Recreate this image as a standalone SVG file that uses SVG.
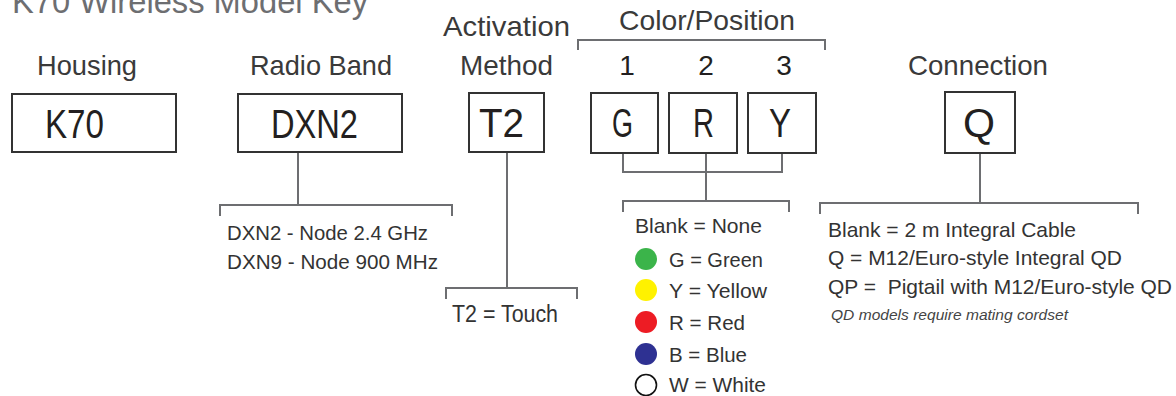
<svg xmlns="http://www.w3.org/2000/svg" width="1176" height="396" viewBox="0 0 1176 396">
<style>
text{font-family:"Liberation Sans",Arial,sans-serif;}
.title{font-size:34px;fill:#6d6e71;}
.head{font-size:28px;fill:#3a3a3a;}
.num{font-size:28px;fill:#231f20;text-anchor:middle;}
.box{fill:#fff;stroke:#333;stroke-width:2;}
.bt{font-size:40px;fill:#231f20;}
.li{font-size:21px;fill:#333;}
.note{font-size:15px;fill:#444;font-style:italic;}
.ln{fill:none;stroke:#6d6e71;stroke-width:2;}
</style>
<rect width="1176" height="396" fill="#fff"/>
<text class="title" x="12" y="13" textLength="356" lengthAdjust="spacingAndGlyphs">K70 Wireless Model Key</text>

<g id="connectors">
<path class="ln" d="M298 152V205M220 216V205H452V216"/>
<path class="ln" d="M507 152V288M446 299V288H577V299"/>
<path class="ln" d="M578 50V40H825V50"/>
<path class="ln" d="M623 153V172H782V153M706 153V201M623 212V201H789V212"/>
<path class="ln" d="M980 153V203M820 214V203H1138V214"/>
</g>

<g id="housing">
<text class="head" x="37" y="75" textLength="100" lengthAdjust="spacingAndGlyphs">Housing</text>
<rect class="box" x="12" y="94" width="164" height="58"/>
<text class="bt" x="45" y="138" textLength="59" lengthAdjust="spacingAndGlyphs">K70</text>
</g>

<g id="radio-band">
<text class="head" x="250" y="75" textLength="142" lengthAdjust="spacingAndGlyphs">Radio Band</text>
<rect class="box" x="238" y="94" width="164" height="58"/>
<text class="bt" x="271" y="138" textLength="87" lengthAdjust="spacingAndGlyphs">DXN2</text>
<text class="li" x="227" y="240" font-size="22" textLength="201" lengthAdjust="spacingAndGlyphs">DXN2 - Node 2.4 GHz</text>
<text class="li" x="227" y="269" font-size="22" textLength="211" lengthAdjust="spacingAndGlyphs">DXN9 - Node 900 MHz</text>
</g>

<g id="activation">
<text class="head" x="443" y="36" textLength="127" lengthAdjust="spacingAndGlyphs">Activation</text>
<text class="head" x="460" y="75" textLength="93" lengthAdjust="spacingAndGlyphs">Method</text>
<rect class="box" x="469" y="93" width="75" height="59"/>
<text class="bt" x="479" y="137" textLength="45" lengthAdjust="spacingAndGlyphs">T2</text>
<text class="li" x="452" y="322" style="font-size:23px" textLength="106" lengthAdjust="spacingAndGlyphs">T2 = Touch</text>
</g>

<g id="color-position">
<text class="head" x="619" y="30" textLength="176" lengthAdjust="spacingAndGlyphs">Color/Position</text>
<text class="num" x="627" y="75">1</text>
<text class="num" x="706" y="75">2</text>
<text class="num" x="784" y="75">3</text>
</g>

<g id="pos1">
<rect class="box" x="591" y="93" width="67" height="60"/>
<text class="bt" x="612" y="137" textLength="21" lengthAdjust="spacingAndGlyphs">G</text>
</g>
<g id="pos2">
<rect class="box" x="669" y="93" width="68" height="60"/>
<text class="bt" x="693" y="137" textLength="21" lengthAdjust="spacingAndGlyphs">R</text>
</g>
<g id="pos3">
<rect class="box" x="748" y="93" width="68" height="60"/>
<text class="bt" x="769" y="137" textLength="22" lengthAdjust="spacingAndGlyphs">Y</text>
</g>

<g id="color-list">
<text class="li" x="635" y="233" textLength="127" lengthAdjust="spacingAndGlyphs">Blank = None</text>
<circle cx="646" cy="259" r="11" fill="#3bb44a"/>
<text class="li" x="669" y="267" textLength="94" lengthAdjust="spacingAndGlyphs">G = Green</text>
<circle cx="646" cy="290" r="11" fill="#fff200"/>
<text class="li" x="669" y="298" textLength="98" lengthAdjust="spacingAndGlyphs">Y = Yellow</text>
<circle cx="646" cy="322" r="11" fill="#ed1c24"/>
<text class="li" x="669" y="330" textLength="76" lengthAdjust="spacingAndGlyphs">R = Red</text>
<circle cx="646" cy="354" r="11" fill="#2e3192"/>
<text class="li" x="669" y="362" textLength="78" lengthAdjust="spacingAndGlyphs">B = Blue</text>
<circle cx="646" cy="385" r="10.5" fill="#fff" stroke="#111" stroke-width="1.6"/>
<text class="li" x="669" y="392" textLength="97" lengthAdjust="spacingAndGlyphs">W = White</text>
</g>

<g id="connection">
<text class="head" x="908" y="75" textLength="140" lengthAdjust="spacingAndGlyphs">Connection</text>
<rect class="box" x="945" y="92" width="70" height="61"/>
<text class="bt" x="963" y="137" textLength="32" lengthAdjust="spacingAndGlyphs">Q</text>
<text class="li" x="828" y="237" textLength="248" lengthAdjust="spacingAndGlyphs">Blank = 2 m Integral Cable</text>
<text class="li" x="828" y="265" textLength="294" lengthAdjust="spacingAndGlyphs">Q = M12/Euro-style Integral QD</text>
<text class="li" x="828" y="294" textLength="344" lengthAdjust="spacingAndGlyphs" xml:space="preserve">QP =  Pigtail with M12/Euro-style QD</text>
<text class="note" x="831" y="320" textLength="237" lengthAdjust="spacingAndGlyphs">QD models require mating cordset</text>
</g>
</svg>
